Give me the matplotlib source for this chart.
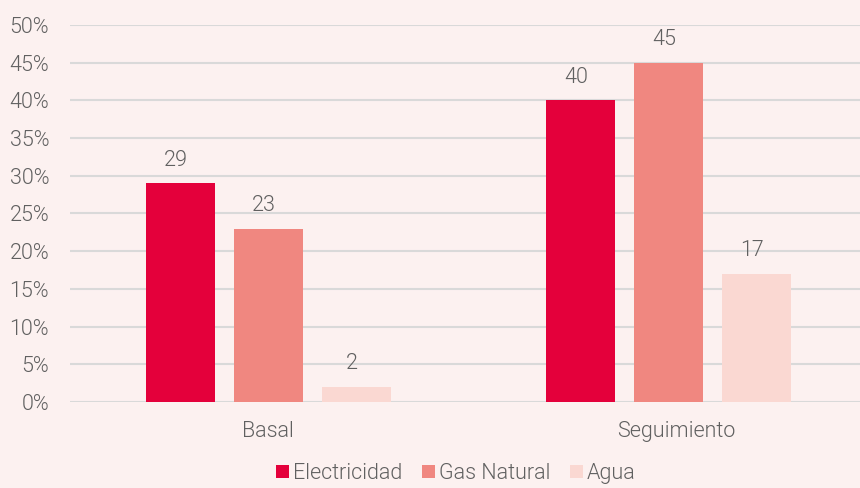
import matplotlib
matplotlib.use('Agg')
import matplotlib.pyplot as plt
import matplotlib.transforms as mtransforms
import numpy as np

categories = ['Basal', 'Seguimiento']
series_names = ['Electricidad', 'Gas Natural', 'Agua']
electricidad = [29, 40]
gas_natural = [23, 45]
agua = [2, 17]
colors = ['#e4003b', '#f08780', '#fad8d2']
bg = '#fcf1f0'
text_color = '#606060'

plt.rcParams['font.family'] = ['Roboto', 'DejaVu Sans']
plt.rcParams['font.weight'] = 300
fs = 15.5

fig = plt.figure(figsize=(8.6, 4.88), dpi=100, facecolor=bg)
ax = fig.add_axes([70/860, 1-402/488, 790/860, 377/488])
ax.set_facecolor(bg)

x = np.arange(len(categories))
width = 0.1725
step = 0.22
for i, (name, vals) in enumerate(zip(series_names, [electricidad, gas_natural, agua])):
    pos = x + (i - 1) * step
    ax.bar(pos, vals, width, color=colors[i], label=name, zorder=3)
    for p, v in zip(pos, vals):
        ax.annotate(str(v), (p, v), xytext=(-3, 9), textcoords='offset points',
                    ha='center', va='bottom', fontsize=fs, color=text_color, fontweight=300)

ax.set_xlim(-0.495, 1.479)
ax.set_ylim(0, 50)
ax.set_yticks(range(0, 51, 5))
ax.set_yticklabels([f'{t}%' for t in range(0, 51, 5)])
ax.set_xticks(x)
ax.set_xticklabels(categories)
ax.grid(axis='y', color='#d9d9d9', linewidth=1.5, zorder=0)
ax.set_axisbelow(True)
for s in ax.spines.values():
    s.set_visible(False)
ax.tick_params(axis='both', length=0, labelsize=fs, colors=text_color)
ax.tick_params(axis='y', pad=15)
ax.tick_params(axis='x', pad=14)

# second category label sits a bit to the right in the original
lbl = ax.get_xticklabels()[1]
lbl.set_transform(lbl.get_transform() + mtransforms.ScaledTranslation(8/100, 0, fig.dpi_scale_trans))

leg = fig.legend(loc='lower center', bbox_to_anchor=(0.53, -0.032), ncol=3, frameon=False,
                 fontsize=fs, handlelength=0.6, handleheight=0.6, handletextpad=0.2,
                 columnspacing=0.9, labelcolor=text_color)

fig.savefig('out.png', dpi=100, facecolor=bg)
